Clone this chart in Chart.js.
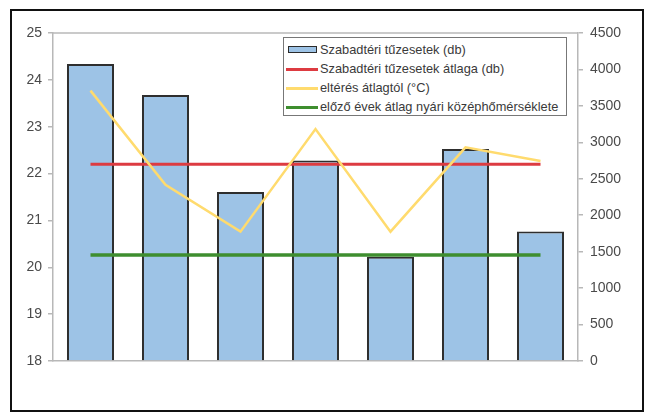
<!DOCTYPE html>
<html>
<head>
<meta charset="utf-8">
<script src="https://cdn.jsdelivr.net/npm/chart.js@4"></script>
<style>
  body { margin: 0; background: #fff; font-family: "Liberation Sans", Arial, sans-serif; }
  #wrap { position: relative; width: 648px; height: 412px; }
  #frame { position: absolute; left: 10px; top: 9px; width: 630px; height: 399px; border: 2px solid #111; }
  #chart { position: absolute; left: 0; top: 0; }
  #legend {
    position: absolute; left: 283px; top: 37px; width: 284px; height: 79px;
    border: 1.5px solid #777; background: #fff; box-sizing: border-box;
    padding-top: 2px; font-size: 12.8px; color: #3a3a3a;
  }
  .item { height: 19px; line-height: 19px; white-space: nowrap; position: relative; padding-left: 36px; }
  .sym { position: absolute; left: 2px; top: 9px; width: 32px; height: 3px; }
  .sym.box { top: 6px; left: 4px; width: 27px; height: 5px; border: 1.5px solid #2b2b2b; }
</style>
</head>
<body>
<div id="wrap">
  <div id="frame"></div>
  <canvas id="chart" width="648" height="412"></canvas>
  <div id="legend"></div>
</div>
<script>
// ---------- adatok ----------
const periods = ["1.", "2.", "3.", "4.", "5.", "6.", "7."];
const fires = [4075, 3650, 2320, 2750, 1430, 2910, 1775];           // szabadtéri tűzesetek (db)
const firesAvg = [2700, 2700, 2700, 2700, 2700, 2700, 2700];         // átlag (db)
const tempDev = [23.77, 21.76, 20.76, 22.95, 20.76, 22.56, 22.27];    // eltérés átlagtól (°C)
const summerAvg = [20.26, 20.26, 20.26, 20.26, 20.26, 20.26, 20.26]; // nyári középhőmérséklet

const leftTicks = { min: 18, max: 25, step: 1 };
const rightTicks = { min: 0, max: 4500, step: 500 };

const seriesNames = [
  "Szabadtéri tűzesetek (db)",
  "Szabadtéri tűzesetek átlaga (db)",
  "eltérés átlagtól (°C)",
  "előző évek átlag nyári középhőmérséklete"
];
const colors = {
  bar: "#9dc3e6",
  barEdge: "#2e2e2e",
  red: "#dd3b41",
  yellow: "#ffdb6e",
  green: "#3e8e2f",
  axis: "#b8b8b8"
};

// szürke keret a rajzterület tetején
const plotFrame = {
  id: "plotFrame",
  beforeDatasetsDraw(chart) {
    const { ctx, chartArea: a } = chart;
    ctx.save();
    ctx.strokeStyle = colors.axis;
    ctx.lineWidth = 1.5;
    ctx.beginPath();
    ctx.moveTo(a.left, a.top);
    ctx.lineTo(a.right, a.top);
    ctx.stroke();
    ctx.restore();
  }
};

const tickFont = { family: "'Liberation Sans', Arial, sans-serif", size: 14 };

const chart = new Chart(document.getElementById("chart").getContext("2d"), {
  type: "bar",
  data: {
    labels: periods,
    datasets: [
      { type: "line", label: seriesNames[3], data: summerAvg, yAxisID: "yL",
        borderColor: colors.green, borderWidth: 3.5, pointRadius: 0, order: 3 },
      { type: "line", label: seriesNames[2], data: tempDev, yAxisID: "yL",
        borderColor: colors.yellow, borderWidth: 2.5, pointRadius: 0, order: 1 },
      { type: "line", label: seriesNames[1], data: firesAvg, yAxisID: "yR",
        borderColor: colors.red, borderWidth: 3, pointRadius: 0, order: 2 },
      { label: seriesNames[0], data: fires, yAxisID: "yR",
        backgroundColor: colors.bar, borderColor: colors.barEdge, borderWidth: 2,
        barPercentage: 0.627, categoryPercentage: 1, order: 10 }
    ]
  },
  options: {
    responsive: false,
    animation: false,
    layout: { padding: { top: 33 } },
    plugins: { legend: { display: false }, tooltip: { enabled: false } },
    scales: {
      x: {
        grid: { display: false },
        ticks: { display: false },
        border: { color: colors.axis, width: 1.5 },
        afterFit: s => { s.height = 51; }
      },
      yL: {
        position: "left",
        min: leftTicks.min, max: leftTicks.max,
        ticks: { stepSize: leftTicks.step, color: "#4a4a4a", font: tickFont, padding: 6 },
        grid: { drawOnChartArea: false, tickLength: 5, color: colors.axis, lineWidth: 1.5 },
        border: { color: colors.axis, width: 1.5 },
        afterFit: s => { s.width = 53; }
      },
      yR: {
        position: "right",
        min: rightTicks.min, max: rightTicks.max,
        ticks: { stepSize: rightTicks.step, color: "#4a4a4a", font: tickFont, padding: 7,
                 callback: v => String(v) },
        grid: { drawOnChartArea: false, tickLength: 5, color: colors.axis, lineWidth: 1.5 },
        border: { color: colors.axis, width: 1.5 },
        afterFit: s => { s.width = 70; }
      }
    }
  },
  plugins: [plotFrame]
});

// jelmagyarázat a rajzterületen belül
const legendItems = [
  { name: seriesNames[0], box: true, color: colors.bar },
  { name: seriesNames[1], color: colors.red },
  { name: seriesNames[2], color: colors.yellow },
  { name: seriesNames[3], color: colors.green }
];
document.getElementById("legend").innerHTML = legendItems.map(it =>
  `<div class="item"><span class="sym${it.box ? " box" : ""}" style="background:${it.color}"></span>${it.name}</div>`
).join("");
</script>
</body>
</html>
